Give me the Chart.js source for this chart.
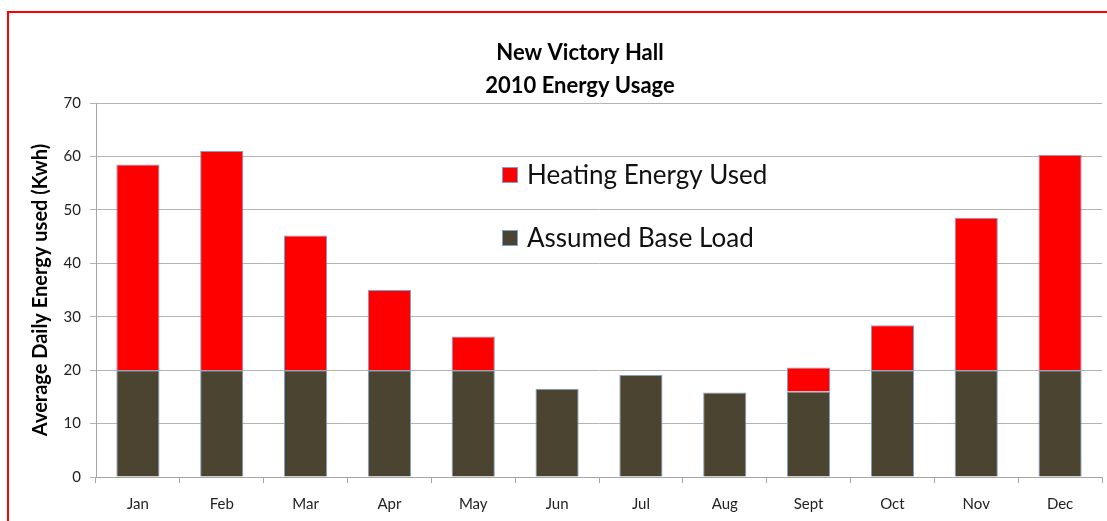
<!DOCTYPE html>
<html>
<head>
<meta charset="utf-8">
<script src="https://cdn.jsdelivr.net/npm/chart.js@4.4.1/dist/chart.umd.min.js"></script>
<style>
    html, body { margin: 0; padding: 0; background: #fff; overflow: hidden; }
    #chart { display: block; }
</style>
</head>
<body>
<canvas id="chart" width="1107" height="521"></canvas>
<script>
// datos
const months = ['Jan', 'Feb', 'Mar', 'Apr', 'May', 'Jun', 'Jul', 'Aug', 'Sept', 'Oct', 'Nov', 'Dec'];
const baseLoad = [20, 20, 20, 20, 20, 16.5, 19.1, 15.8, 16, 20, 20, 20];
const heating = [38.5, 41, 25.2, 15, 6.3, 0, 0, 0, 4.5, 8.4, 28.5, 40.3];
const titleLines = ['New Victory Hall', '2010 Energy Usage'];
const yTitle = 'Average Daily Energy used (Kwh)';

const FONT = 'Lato, "Open Sans", sans-serif';

// marco rojo (solo arriba e izquierda)
const framePlugin = {
    id: 'frame',
    beforeDraw(chart) {
        const ctx = chart.ctx;
        ctx.save();
        ctx.fillStyle = '#fff';
        ctx.fillRect(0, 0, chart.width, chart.height);
        ctx.strokeStyle = '#ff0000';
        ctx.lineWidth = 2;
        ctx.beginPath();
        ctx.moveTo(8, chart.height);
        ctx.lineTo(8, 12);
        ctx.lineTo(chart.width, 12);
        ctx.stroke();
        ctx.restore();
    }
};

// titulo y leyenda dibujados a mano
const overlayPlugin = {
    id: 'overlay',
    afterDraw(chart) {
        const ctx = chart.ctx;
        ctx.save();
        ctx.fillStyle = '#000';
        ctx.textAlign = 'center';
        ctx.textBaseline = 'middle';
        ctx.font = `bold 22px ${FONT}`;
        titleLines.forEach((t, i) => ctx.fillText(t, 580, 53 + i * 33));

        // leyenda: orden inverso (Heating arriba)
        const sets = chart.data.datasets.slice().reverse();
        ctx.font = `26px ${FONT}`;
        ctx.textAlign = 'left';
        sets.forEach((ds, i) => {
            const y = 175 + i * 63;
            ctx.fillStyle = ds.backgroundColor;
            ctx.fillRect(502, y - 8, 16, 16);
            ctx.strokeStyle = ds.borderColor;
            ctx.lineWidth = 1;
            ctx.strokeRect(502.5, y - 7.5, 15, 15);
            ctx.fillStyle = '#111';
            ctx.fillText(ds.label, 527, y + 1);
        });
        ctx.restore();
    }
};

new Chart(document.getElementById('chart'), {
    type: 'bar',
    data: {
        labels: months,
        datasets: [
            {
                label: 'Assumed Base Load',
                data: baseLoad,
                backgroundColor: '#4a4430',
                borderColor: '#7f9fcc',
                borderWidth: 1,
                barPercentage: 0.515,
                categoryPercentage: 1
            },
            {
                label: 'Heating Energy Used',
                data: heating,
                backgroundColor: '#ff0000',
                borderColor: '#7f9fcc',
                borderWidth: 1,
                barPercentage: 0.515,
                categoryPercentage: 1
            }
        ]
    },
    options: {
        responsive: false,
        animation: false,
        layout: { padding: { left: 0, right: 5, top: 103, bottom: 0 } },
        plugins: {
            legend: { display: false },
            title: { display: false },
            tooltip: { enabled: false }
        },
        scales: {
            x: {
                stacked: true,
                grid: { display: true, drawOnChartArea: false, offset: true, tickLength: 6, color: '#a6a6a6' },
                border: { color: '#a6a6a6' },
                ticks: { color: '#222', padding: 12, font: { family: FONT, size: 15 } },
                afterFit: s => { s.height = 44; }
            },
            y: {
                stacked: true,
                min: 0,
                max: 70,
                ticks: { stepSize: 10, color: '#222', padding: 9, font: { family: FONT, size: 15 } },
                grid: { color: '#b4b4b4', tickLength: 6 },
                border: { color: '#a6a6a6' },
                title: {
                    display: true,
                    text: yTitle,
                    color: '#000',
                    font: { family: FONT, size: 20, weight: 'bold' },
                    padding: { top: 29, bottom: 0 }
                },
                afterFit: s => { s.width = 96; }
            }
        }
    },
    plugins: [framePlugin, overlayPlugin]
});
</script>
</body>
</html>
